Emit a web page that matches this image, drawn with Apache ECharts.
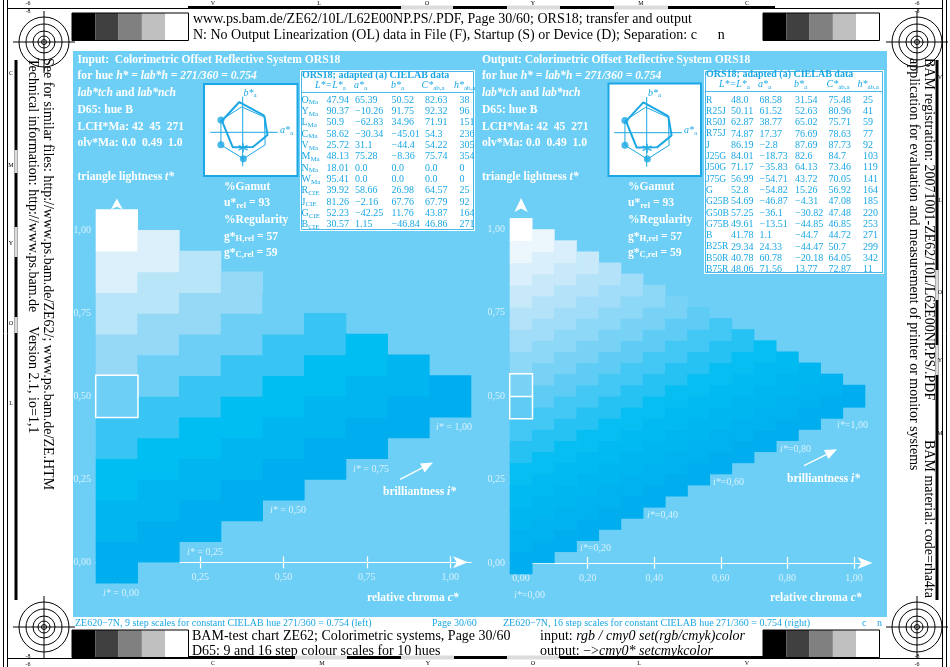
<!DOCTYPE html>
<html>
<head>
<meta charset="utf-8">
<script src="https://cdn.jsdelivr.net/npm/echarts@6/dist/echarts.min.js"></script>
<style>
  html, body { margin: 0; padding: 0; background: #fff; }
  #chart { width: 950px; height: 667px; }
</style>
</head>
<body>
<div id="chart"></div>
<script>
const SERIF = '"Liberation Serif", "Times New Roman", serif';
const CY = '#1aa7e4';
const PALE = 'rgba(255,255,255,0.72)';

// ---- triangle step scales (read from the two triangles) ----
const leftChroma = [0, 0.125, 0.25, 0.375, 0.5, 0.625, 0.75, 0.875, 1];
const leftWhite = [0, 0.125, 0.25, 0.375, 0.5, 0.625, 0.75, 0.875, 1];
const rightChroma = [0, 0.0667, 0.1333, 0.2, 0.2667, 0.3333, 0.4, 0.4667, 0.5333, 0.6, 0.6667, 0.7333, 0.8, 0.8667, 0.9333, 1];
const rightWhite = [0, 0.0667, 0.1333, 0.2, 0.2667, 0.3333, 0.4, 0.4667, 0.5333, 0.6, 0.6667, 0.7333, 0.8, 0.8667, 0.9333, 1];
const leftMarkedT = [0.5];
const rightMarkedT = [0.4667, 0.5333];
// cyan tint ramp, cyan 0 .. 1 in eighths
const cyanColors = ['#ffffff', '#dbf0fb', '#b9e5f9', '#95d9f7', '#6dcff6', '#38c5f3', '#00bdf2', '#00b5f0', '#00aeef'];

// axis ticks / labels
const leftXTicks = [0.25, 0.5, 0.75, 1];
const leftYTicks = [0, 0.25, 0.5, 0.75, 1];
const rightXTicks = [0.2, 0.4, 0.6, 0.8, 1];
const rightXLabels = [0, 0.2, 0.4, 0.6, 0.8, 1];
const rightYTicks = [0, 0.25, 0.5, 0.75, 1];
const leftIsoLabels = ['1,00', '0,75', '0,50', '0,25', '0,00'];
const rightIsoLabels = ['1,00', '0,80', '0,60', '0,40', '0,20', '0,00'];

// ---- CIELAB tables ----
const leftTableRows = [
  ['O', 'Ma', '47.94', '65.39', '50.52', '82.63', '38'],
  ['Y', 'Ma', '90.37', '\u221210.26', '91.75', '92.32', '96'],
  ['L', 'Ma', '50.9', '\u221262.83', '34.96', '71.91', '151'],
  ['C', 'Ma', '58.62', '\u221230.34', '\u221245.01', '54.3', '236'],
  ['V', 'Ma', '25.72', '31.1', '\u221244.4', '54.22', '305'],
  ['M', 'Ma', '48.13', '75.28', '\u22128.36', '75.74', '354'],
  ['N', 'Ma', '18.01', '0.0', '0.0', '0.0', '0'],
  ['W', 'Ma', '95.41', '0.0', '0.0', '0.0', '0'],
  ['R', 'CIE', '39.92', '58.66', '26.98', '64.57', '25'],
  ['J', 'CIE', '81.26', '\u22122.16', '67.76', '67.79', '92'],
  ['G', 'CIE', '52.23', '\u221242.25', '11.76', '43.87', '164'],
  ['B', 'CIE', '30.57', '1.15', '\u221246.84', '46.86', '271']
];
const rightTableRows = [
  ['R', '48.0', '68.58', '31.54', '75.48', '25'],
  ['R25J', '50.11', '61.52', '52.63', '80.96', '41'],
  ['R50J', '62.87', '38.77', '65.02', '75.71', '59'],
  ['R75J', '74.87', '17.37', '76.69', '78.63', '77'],
  ['J', '86.19', '\u22122.8', '87.69', '87.73', '92'],
  ['J25G', '84.01', '\u221218.73', '82.6', '84.7', '103'],
  ['J50G', '71.17', '\u221235.83', '64.13', '73.46', '119'],
  ['J75G', '56.99', '\u221254.71', '43.72', '70.05', '141'],
  ['G', '52.8', '\u221254.82', '15.26', '56.92', '164'],
  ['G25B', '54.69', '\u221246.87', '\u22124.31', '47.08', '185'],
  ['G50B', '57.25', '\u221236.1', '\u221230.82', '47.48', '220'],
  ['G75B', '49.61', '\u221213.51', '\u221244.85', '46.85', '253'],
  ['B', '41.78', '1.1', '\u221244.7', '44.72', '271'],
  ['B25R', '29.34', '24.33', '\u221244.47', '50.7', '299'],
  ['B50R', '40.78', '60.78', '\u221220.18', '64.05', '342'],
  ['B75R', '48.06', '71.56', '13.77', '72.87', '11']
];

// ---- hue inset (a*, b*) ----
const hexA = [65.39, -10.26, -62.83, -30.34, 31.1, 75.28, 65.39];   // O Y L C V M O
const hexB = [50.52, 91.75, 34.96, -45.01, -44.4, -8.36, 50.52];
const refHexA = [-66, -66, 2, 68, 66, -3, -66];
const refHexB = [37, -38, -80, -38, 46, 77, 37];
const crossA = [-98, 106];
const crossB = [108, -103];
const hueCieA = [1.15];
const hueCieB = [-46.84];

function buildCells(chroma, white, marked) {
  const cells = [];
  chroma.forEach(function (c) {
    white.forEach(function (w) {
      if (w + c > 1.001) return;
      const t = w + c / 2;
      const m = c === 0 && marked.some(function (v) { return Math.abs(v - t) < 0.002; }) ? 1 : 0;
      cells.push([c, t, 1 - w, m]);
    });
  });
  return cells;
}

function cellRenderer(step) {
  return function (params, api) {
    const p = api.coord([api.value(0), api.value(1)]);
    const s = api.size([step, step]);
    const mark = api.value(3) === 1;
    return {
      type: 'rect',
      z2: mark ? 10 : 0,
      shape: { x: p[0] - s[0] / 2 - 0.3, y: p[1] - s[1] / 2 - 0.3, width: s[0] + 0.6, height: s[1] + 0.6 },
      style: mark
        ? { fill: api.visual('color'), stroke: '#ffffff', lineWidth: 1.5 }
        : { fill: api.visual('color') }
    };
  };
}

const fmt = function (v) { return v.toFixed(2).replace('.', ','); };
const tickLabel = { color: PALE, fontFamily: SERIF, fontSize: 10, formatter: fmt };

function triX(grid, min, max, ticks, labels, yIdx, symOffset, labelMargin) {
  return [
    {
      gridIndex: grid, type: 'value', min: min, max: max, position: 'bottom',
      axisLine: { onZero: true, onZeroAxisIndex: yIdx, lineStyle: { color: '#fff', width: 1.2 },
        symbol: ['none', 'arrow'], symbolSize: [9, 15], symbolOffset: [0, symOffset] },
      axisTick: { show: true, inside: true, length: 6, customValues: ticks, lineStyle: { color: '#fff', width: 1.2 } },
      axisLabel: Object.assign({ customValues: labels, margin: labelMargin }, tickLabel),
      splitLine: { show: false }
    },
    {
      gridIndex: grid, type: 'value', min: min, max: max, position: 'bottom',
      axisLine: { show: false, onZero: true, onZeroAxisIndex: yIdx },
      axisTick: { show: true, inside: false, length: 6, customValues: ticks, lineStyle: { color: '#fff', width: 1.2 } },
      axisLabel: { show: false },
      splitLine: { show: false }
    }
  ];
}

function triY(grid, min, max, ticks, margin, symSize, symOffset) {
  return {
    gridIndex: grid, type: 'value', min: min, max: max,
    axisLine: { onZero: true, lineStyle: { color: '#fff', width: 1.2 },
      symbol: ['none', 'arrow'], symbolSize: symSize, symbolOffset: [0, symOffset] },
    axisTick: { show: false },
    axisLabel: Object.assign({ customValues: ticks, margin: margin }, tickLabel),
    splitLine: { show: false }
  };
}

function insetSeries(xi, yi) {
  const base = { type: 'line', xAxisIndex: xi, yAxisIndex: yi, symbol: 'none', silent: true, z: 3 };
  const zip = function (a, b) { return a.map(function (v, i) { return [v, b[i]]; }); };
  return [
    Object.assign({}, base, { data: [[crossA[0], 0], [crossA[1], 0]], lineStyle: { color: CY, width: 1 } }),
    Object.assign({}, base, { data: [[0, crossB[0]], [0, crossB[1]]], lineStyle: { color: CY, width: 1 } }),
    Object.assign({}, base, { data: zip(refHexA, refHexB), lineStyle: { color: CY, width: 1 } }),
    Object.assign({}, base, { data: zip(hexA, hexB), lineStyle: { color: CY, width: 2 } }),
    { type: 'scatter', xAxisIndex: xi, yAxisIndex: yi, silent: true, z: 4, symbolSize: 7,
      data: zip(refHexA.slice(0, 3), refHexB.slice(0, 3)), itemStyle: { color: CY } },
    { type: 'scatter', xAxisIndex: xi, yAxisIndex: yi, silent: true, z: 4, symbolSize: 9,
      symbol: 'path://M5,0L5,10M0.7,2.5L9.3,7.5M0.7,7.5L9.3,2.5',
      data: zip(hueCieA, hueCieB), itemStyle: { color: 'none', borderColor: CY, borderWidth: 1.6 } }
  ];
}

// ---------- graphic helpers ----------
const G = [];
function rect(x, y, w, h, style, z) {
  G.push({ type: 'rect', z: z == null ? 1 : z, silent: true, shape: { x: x, y: y, width: w, height: h }, style: style });
}
function seg(x1, y1, x2, y2, color, width, z) {
  G.push({ type: 'line', z: z == null ? 6 : z, silent: true, shape: { x1: x1, y1: y1, x2: x2, y2: y2 }, style: { stroke: color, lineWidth: width } });
}
function txt(x, y, str, st, extra) {
  const style = Object.assign({ x: x, y: y, text: str, fill: '#fff', font: '11px ' + SERIF,
    align: 'left', textAlign: 'left', verticalAlign: 'middle', textVerticalAlign: 'middle' }, st || {});
  G.push(Object.assign({ type: 'text', z: 8, silent: true, style: style }, extra || {}));
}
function F(size, weight, fstyle) {
  return { fontFamily: SERIF, fontSize: size, fontWeight: weight || 'normal', fontStyle: fstyle || 'normal' };
}
function arrow(x1, y1, x2, y2, color) {
  const dx = x2 - x1, dy = y2 - y1, len = Math.sqrt(dx * dx + dy * dy);
  const ux = dx / len, uy = dy / len, bx = x2 - 12 * ux, by = y2 - 12 * uy;
  seg(x1, y1, bx, by, color, 1.3);
  G.push({ type: 'polygon', z: 6, silent: true, shape: { points: [[x2, y2], [bx + 5 * uy, by - 5 * ux], [bx - 5 * uy, by + 5 * ux]] }, style: { fill: color } });
}

const richW = {
  b: Object.assign(F(11.6, 'bold'), { lineHeight: 14 }),
  bi: Object.assign(F(11.6, 'bold', 'italic'), { lineHeight: 14 }),
  s: Object.assign(F(8.5, 'bold'), { verticalAlign: 'bottom' })
};
const richT = {
  n: Object.assign(F(10), { lineHeight: 12 }),
  i: Object.assign(F(10, 'normal', 'italic'), { lineHeight: 12 }),
  s: Object.assign(F(7), { verticalAlign: 'bottom' })
};
const richI = {
  i: Object.assign(F(10, 'normal', 'italic'), { lineHeight: 12 }),
  n: Object.assign(F(10), { lineHeight: 12 })
};

// blue panel
rect(73, 51, 814, 566, { fill: '#6dcff6' }, -5);

// panel texts
function panelText(x0, gx, title) {
  txt(x0, 59.5, '{b|' + title + '}', { rich: richW });
  txt(x0, 76, '{b|for hue }{bi|h* = lab*h = 271/360 = 0.754}', { rich: richW });
  txt(x0, 93, '{bi|lab*tch}{b| and }{bi|lab*nch}', { rich: richW });
  txt(x0, 110, '{b|D65: hue B}', { rich: richW });
  txt(x0, 126.5, '{b|LCH*Ma: 42  45  271}', { rich: richW });
  txt(x0, 143, '{b|olv*Ma: 0.0  0.49  1.0}', { rich: richW });
  txt(x0, 176.5, '{b|triangle lightness }{bi|t*}', { rich: richW });
  txt(gx, 186.7, '{b|%Gamut}', { rich: richW });
  txt(gx, 203, '{b|u*}{s|rel}{b| = 93}', { rich: richW });
  txt(gx, 219.5, '{b|%Regularity}', { rich: richW });
  txt(gx, 236.5, '{b|g*}{s|H,rel}{b| = 57}', { rich: richW });
  txt(gx, 252.5, '{b|g*}{s|C,rel}{b| = 59}', { rich: richW });
}
panelText(77.5, 224, 'Input:  Colorimetric Offset Reflective System ORS18');
panelText(482, 628, 'Output: Colorimetric Offset Reflective System ORS18');

// hue inset boxes
rect(204, 84, 93.5, 92, { fill: '#fff', stroke: CY, lineWidth: 2 }, 1);
rect(608.5, 83.5, 92.5, 92.5, { fill: '#fff', stroke: CY, lineWidth: 2 }, 1);
txt(243.5, 93, '{i|b*}{s|a}', { rich: richT, fill: CY });
txt(280, 130.5, '{i|a*}{s|a}', { rich: richT, fill: CY });
txt(648, 93, '{i|b*}{s|a}', { rich: richT, fill: CY });
txt(684, 130.5, '{i|a*}{s|a}', { rich: richT, fill: CY });

// tables
function tableHeader(x, y, cols, lineY, lineX1, lineX2) {
  txt(x, y, 'ORS18; adapted (a) CIELAB data', { fill: CY, font: 'bold 10px ' + SERIF });
  const heads = ['{i|L*=L*}{s|a}', '{i|a*}{s|a}', '{i|b*}{s|a}', '{i|C*}{s|ab,a}', '{i|h*}{s|ab,a}'];
  heads.forEach(function (h, i) { txt(cols[i], y + 10, h, { rich: richT, fill: CY }); });
  seg(lineX1, lineY, lineX2, lineY, CY, 0.8, 7);
}
rect(300, 70, 175, 161, { fill: '#fff' }, 1);
rect(301.5, 71.5, 172, 158, { fill: 'none', stroke: CY, lineWidth: 0.8 }, 2);
tableHeader(302, 75.5, [315, 354, 391, 421.5, 454], 92.5, 302, 473);
const lCols = [301.5, 326.5, 355, 391.5, 425, 459.5];
leftTableRows.forEach(function (r, i) {
  const y = 100 + i * 11.34;
  txt(lCols[0], y, '{n|' + r[0] + '}{s|' + r[1] + '}', { rich: richT, fill: CY });
  for (let k = 2; k < 7; k++) txt(lCols[k - 1], y, r[k], { fill: CY, font: '10px ' + SERIF });
});
rect(704, 70, 180, 204, { fill: '#fff' }, 1);
rect(705.5, 71.5, 177, 201, { fill: 'none', stroke: CY, lineWidth: 0.8 }, 2);
tableHeader(706, 74.7, [719, 758, 794, 826.5, 857.5], 91.5, 706, 882);
const rCols = [706, 731, 759.5, 795, 828.5, 863];
rightTableRows.forEach(function (r, i) {
  const y = 100 + i * 11.3;
  r.forEach(function (v, k) { txt(rCols[k], y, v, { fill: CY, font: (k === 0 ? '9.6px ' : '10px ') + SERIF }); });
});

// iso-brilliance labels, arrows and axis titles inside the panels
const leftIsoPos = [[436, 427.3], [353, 469.3], [270, 510], [187, 552.7], [103, 593.3]];
leftIsoLabels.forEach(function (l, i) {
  txt(leftIsoPos[i][0], leftIsoPos[i][1], '{i|i*}{n| = ' + l + '}', { rich: richI, fill: PALE });
});
const rightIsoPos = [[837, 425.7], [780, 449.3], [713, 482.7], [647, 515.7], [580, 548.3], [514, 595]];
rightIsoLabels.forEach(function (l, i) {
  txt(rightIsoPos[i][0], rightIsoPos[i][1], '{i|i*}{n|=' + l + '}', { rich: richI, fill: PALE });
});
txt(383, 492.3, '{b|brilliantness }{bi|i*}', { rich: richW });
txt(367, 598.3, '{b|relative chroma }{bi|c*}', { rich: richW });
txt(787, 479.3, '{b|brilliantness }{bi|i*}', { rich: richW });
txt(770, 598.3, '{b|relative chroma }{bi|c*}', { rich: richW });
arrow(400, 479.3, 433, 462.5, '#fff');
arrow(804, 465.7, 837, 449.2, '#fff');

// captions under the panels
const capFont = { fill: CY, font: '10px ' + SERIF };
txt(75, 623, 'ZE620\u22127N, 9 step scales for constant CIELAB hue 271/360 = 0.754 (left)', capFont);
txt(432, 623, 'Page 30/60', capFont);
txt(503, 623, 'ZE620\u22127N, 16 step scales for constant CIELAB hue 271/360 = 0.754 (right)', capFont);
txt(862, 623, 'c', capFont);
txt(877, 623, 'n', capFont);

// header and footer text
const blk = { fill: '#000', font: '14px ' + SERIF };
txt(193, 19, 'www.ps.bam.de/ZE62/10L/L62E00NP.PS/.PDF, Page 30/60; ORS18; transfer and output', blk);
txt(193, 35, 'N: No Output Linearization (OL) data in File (F), Startup (S) or Device (D); Separation: c      n', blk);
txt(192, 636, 'BAM-test chart ZE62; Colorimetric systems, Page 30/60', blk);
txt(192, 651, 'D65: 9 and 16 step colour scales for 10 hues', blk);
const richK = { n: Object.assign(F(14), { fill: '#000' }), i: Object.assign(F(14, 'normal', 'italic'), { fill: '#000' }) };
txt(540, 636, '{n|input: }{i|rgb / cmy0 set(rgb/cmyk)color}', { rich: richK, fill: '#000' });
txt(540, 651, '{n|output: \u2212>}{i|cmy0* setcmykcolor}', { rich: richK, fill: '#000' });

// side texts (rotated clockwise)
const rot = { rotation: -Math.PI / 2 };
txt(0, 0, 'See for similar files: http://www.ps.bam.de/ZE62/; www.ps.bam.de/ZE.HTM', blk, Object.assign({ x: 48, y: 58 }, rot));
txt(0, 0, 'Technical information: http://www.ps.bam.de    Version 2.1, io=1,1', blk, Object.assign({ x: 33, y: 58 }, rot));
txt(0, 0, 'BAM registration: 20071001-ZE62/10L/L62E00NP.PS/.PDF', blk, Object.assign({ x: 929, y: 58 }, rot));
txt(0, 0, 'BAM material: code=rha4ta', blk, Object.assign({ x: 929, y: 440 }, rot));
txt(0, 0, 'application for evaluation and measurement of printer or monitor systems', blk, Object.assign({ x: 914, y: 58 }, rot));

// grey step wedges
const greys = ['#000000', '#404040', '#808080', '#c0c0c0', '#ffffff'];
[[72, 13], [763, 13], [72, 630], [763, 630]].forEach(function (p) {
  greys.forEach(function (g, i) { rect(p[0] + i * 23.3, p[1], 23.3, 27.5, { fill: g }, 1); });
  rect(p[0], p[1], 116.5, 27.5, { fill: 'none', stroke: '#000', lineWidth: 1 }, 2);
});

// registration targets
[[44, 42], [917, 42], [44, 627], [917, 627]].forEach(function (c) {
  [25, 18, 11, 6, 2.5].forEach(function (r) {
    G.push({ type: 'circle', z: 6, silent: true, shape: { cx: c[0], cy: c[1], r: r }, style: { fill: 'none', stroke: '#000', lineWidth: 1 } });
  });
  seg(c[0] - 31, c[1], c[0] + 31, c[1], '#000', 1);
  seg(c[0], c[1] - 31, c[0], c[1] + 31, '#000', 1);
});

// page frame, colour bars and separation letters
seg(3.5, 0, 3.5, 667, '#000', 1);
seg(7.5, 0, 7.5, 667, '#000', 1);
seg(942.5, 0, 942.5, 667, '#000', 1);
seg(946.5, 0, 946.5, 667, '#000', 1);
seg(8, 8.5, 942, 8.5, '#000', 1);
seg(8, 658.5, 942, 658.5, '#000', 1);
seg(188, 7.5, 775, 7.5, '#000', 3);
seg(188, 657.5, 775, 657.5, '#000', 3);
[[401, 453], [507, 560], [614, 668]].forEach(function (s) { rect(s[0], 5.5, s[1] - s[0], 4, { fill: '#dcdcdc' }, 7); });
[[295, 347], [401, 454], [507, 560]].forEach(function (s) { rect(s[0], 655.5, s[1] - s[0], 4, { fill: '#dcdcdc' }, 7); });
seg(16, 60, 16, 600, '#000', 3);
[[150, 173], [227, 257], [317, 333]].forEach(function (s) { rect(14.5, s[0], 3, s[1] - s[0], { fill: '#dcdcdc' }, 7); });
seg(937, 60, 937, 600, '#000', 3);
[[270, 300], [345, 375]].forEach(function (s) { rect(935.5, s[0], 3, s[1] - s[0], { fill: '#dcdcdc' }, 7); });
const tiny = { fill: '#000', font: '6px ' + SERIF, align: 'center', textAlign: 'center' };
[['V', 213], ['L', 319], ['O', 427], ['Y', 533], ['M', 641], ['C', 747]].forEach(function (l) { txt(l[1], 3, l[0], tiny); });
[['C', 213], ['M', 322], ['Y', 428], ['O', 533], ['L', 639], ['V', 747]].forEach(function (l) { txt(l[1], 663, l[0], tiny); });
[['C', 73], ['M', 165], ['Y', 243], ['O', 323], ['L', 403]].forEach(function (l) { txt(11, l[1], l[0], tiny); });
[['V', 77], ['L', 200], ['O', 292], ['Y', 360], ['M', 433]].forEach(function (l) { txt(940, l[1], l[0], tiny); });
[[28, 3, '-6'], [28, 11, '-8'], [917, 3, '-6'], [917, 11, '-8'], [28, 656, '-8'], [28, 664, '-6'], [917, 656, '-8'], [917, 664, '-6']].forEach(function (l) {
  txt(l[0], l[1], l[2], tiny);
});

const option = {
  animation: false,
  backgroundColor: '#ffffff',
  grid: [
    { left: 96, top: 209.6, width: 375, height: 373.5, show: false },
    { left: 510, top: 218.4, width: 355, height: 355.6, show: false },
    { left: 204, top: 84, width: 93.5, height: 92, show: false },
    { left: 608.5, top: 84, width: 92.5, height: 92, show: false }
  ],
  xAxis: []
    .concat(triX(0, -0.0625, 1.0625, leftXTicks, leftXTicks, 0, -3, -10.5))
    .concat(triX(1, -0.033333, 1.033333, rightXTicks, rightXLabels, 1, 7.5, -1))
    .concat([
      { gridIndex: 2, type: 'value', min: -117.3, max: 166.1, show: false },
      { gridIndex: 3, type: 'value', min: -115.8, max: 164.5, show: false }
    ]),
  yAxis: [
    triY(0, -0.0625, 1.0625, leftYTicks, 5, [9, 11], 11),
    triY(1, -0.033333, 1.033333, rightYTicks, 5, [10, 14], 20.4),
    { gridIndex: 2, type: 'value', min: -132.4, max: 146.4, show: false },
    { gridIndex: 3, type: 'value', min: -131.2, max: 147.6, show: false }
  ],
  visualMap: {
    type: 'continuous', show: false, seriesIndex: [0, 1], dimension: 2,
    min: 0, max: 1, inRange: { color: cyanColors }
  },
  series: [
    { type: 'custom', xAxisIndex: 0, yAxisIndex: 0, silent: true,
      renderItem: cellRenderer(0.125), data: buildCells(leftChroma, leftWhite, leftMarkedT) },
    { type: 'custom', xAxisIndex: 2, yAxisIndex: 1, silent: true,
      renderItem: cellRenderer(0.066667), data: buildCells(rightChroma, rightWhite, rightMarkedT) }
  ].concat(insetSeries(4, 2)).concat(insetSeries(5, 3)),
  graphic: { elements: G }
};

const chart = echarts.init(document.getElementById('chart'), null, { renderer: 'canvas' });
chart.setOption(option);
</script>
</body>
</html>
